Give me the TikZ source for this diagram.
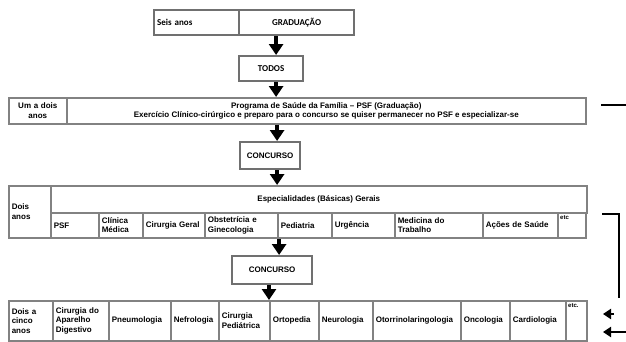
\documentclass[tikz,border=0pt]{standalone}
\usepackage{fontspec}
\setmainfont{Liberation Sans}
\newfontfamily\calib{Carlito}
\usetikzlibrary{arrows.meta,positioning}
\definecolor{boxgray}{RGB}{130,130,130}
\definecolor{topgray}{RGB}{112,112,112}
\tikzstyle{cell}=[rectangle,draw=boxgray,line width=1.6pt,inner xsep=3pt,inner ysep=0pt,anchor=north west,align=left,font=\bfseries\fontsize{8}{9.5}\selectfont]
\tikzstyle{topcell}=[cell,draw=topgray,line width=2.2pt,font=\calib\bfseries\fontsize{9}{10}\selectfont]
\tikzstyle{exambox}=[cell,draw=topgray,line width=2.2pt,align=center]
\tikzstyle{etcfont}=[font=\bfseries\fontsize{6}{7}\selectfont,anchor=north west,inner sep=3pt]
\tikzstyle{bigarrow}=[draw,line width=3.5pt,-{Triangle[width=14pt,length=11pt]}]
\tikzstyle{smallarrow}=[draw,line width=2pt,-{Triangle[width=10pt,length=8pt]}]
\tikzstyle{bracket}=[draw,line width=1.5pt]

\begin{document}
\begin{tikzpicture}[x=1pt,y=-1pt]
\useasboundingbox (0,0) rectangle (626,341);

    \def\ha{25};
    \def\hb{40};

% Graduation
    \node[topcell,minimum width=85,minimum height=\ha,text width=79pt] (seis) at (153,9) {Seis anos};
    \node[topcell,minimum width=115,minimum height=\ha,align=center] (grad) at (238,9) {GRADUAÇÃO};
    \node[topcell,minimum width=64,minimum height=\ha,align=center] (todos) at (238,55) {TODOS};

% PSF
    \node[cell,minimum width=58,minimum height=26,text width=52pt,align=center] (umdois) at (8,97) {Um a dois\\anos};
    \node[cell,minimum width=519,minimum height=26,align=center] (programa) at (66,97)
        {Programa de Saúde da Família – PSF (Graduação)\\Exercício Clínico-cirúrgico e preparo para o concurso se quiser permanecer no PSF e especializar-se};

    \node[exambox,minimum width=60,minimum height=27] (concurso) at (239,141) {CONCURSO};

% Especialidades basicas
    \node[cell,minimum width=42,minimum height=52,text width=36pt] (doisanos) at (8,185) {Dois\\anos};
    \node[cell,minimum width=536,minimum height=27,align=center] (especial) at (50,185) {Especialidades (Básicas) Gerais};

    \foreach \x/\w/\name/\txt in {50/48/psf/PSF, 98/44/clinica/{Clínica\\Médica}, 142/62/cirgeral/Cirurgia Geral,
        204/73/obst/{Obstetrícia e\\Ginecologia}, 277/54/pediatria/Pediatria, 331/63/urgencia/Urgência,
        394/88/medtrab/{Medicina do\\Trabalho}, 482/75/acoes/Ações de Saúde}
    {
        \pgfmathsetmacro{\tw}{\w-6}
        \node[cell,minimum width=\w,minimum height=\ha,text width=\tw pt] (\name) at (\x,212) {\txt};
    }
    \node[cell,minimum width=28,minimum height=\ha,label={[etcfont]north west:etc}] (etca) at (557,212) {};

    \node[exambox,minimum width=80,minimum height=28] (concursob) at (231,255) {CONCURSO};

% Especialidades
    \node[cell,minimum width=44,minimum height=\hb,text width=38pt] (cincoanos) at (8,300) {Dois a\\cinco\\anos};

    \foreach \x/\w/\name/\txt in {52/56/cirapd/{Cirurgia do\\Aparelho\\Digestivo}, 108/62/pneumo/Pneumologia,
        170/48/nefro/Nefrologia, 218/51/cirped/{Cirurgia\\Pediátrica}, 269/49/orto/Ortopedia,
        318/54/neuro/Neurologia, 372/88/otorrino/Otorrinolaringologia, 460/49/onco/Oncologia,
        509/56/cardio/Cardiologia}
    {
        \pgfmathsetmacro{\tw}{\w-6}
        \node[cell,minimum width=\w,minimum height=\hb,text width=\tw pt] (\name) at (\x,300) {\txt};
    }
    \node[cell,minimum width=21,minimum height=\hb,label={[etcfont]north west:etc.}] (etcb) at (565,300) {};

% Arrows
    \draw[bigarrow] ([xshift=5pt]todos.north |- grad.south) -- ([xshift=5pt]todos.north);
    \draw[bigarrow] ([xshift=5pt]todos.south) -- ([xshift=5pt]todos.south |- programa.north);
    \draw[bigarrow] ([xshift=7pt]concurso.north |- programa.south) -- ([xshift=7pt]concurso.north);
    \draw[bigarrow] ([xshift=7pt]concurso.south) -- ([xshift=7pt]concurso.south |- especial.north);
    \draw[bigarrow] ([xshift=7pt]concursob.north |- pediatria.south) -- ([xshift=7pt]concursob.north);
    \draw[bigarrow] (concursob.south -| orto.north west) -- (orto.north west);

% Right side
    \coordinate (rowend) at (601,105);
    \coordinate (rowout) at (626,105);
    \draw[bracket] (rowend) -- (rowout);
    \coordinate (brtop) at (602,214);
    \coordinate (brbot) at (619,298);
    \draw[bracket] (brtop) -| (brbot);
    \coordinate (taila) at (614,314);
    \coordinate (tipa) at (603,314);
    \draw[smallarrow] (taila) -- (tipa);
    \coordinate (tailb) at (626,332);
    \coordinate (tipb) at (603,332);
    \draw[smallarrow] (tailb) -- (tipb);

\end{tikzpicture}
\end{document}
